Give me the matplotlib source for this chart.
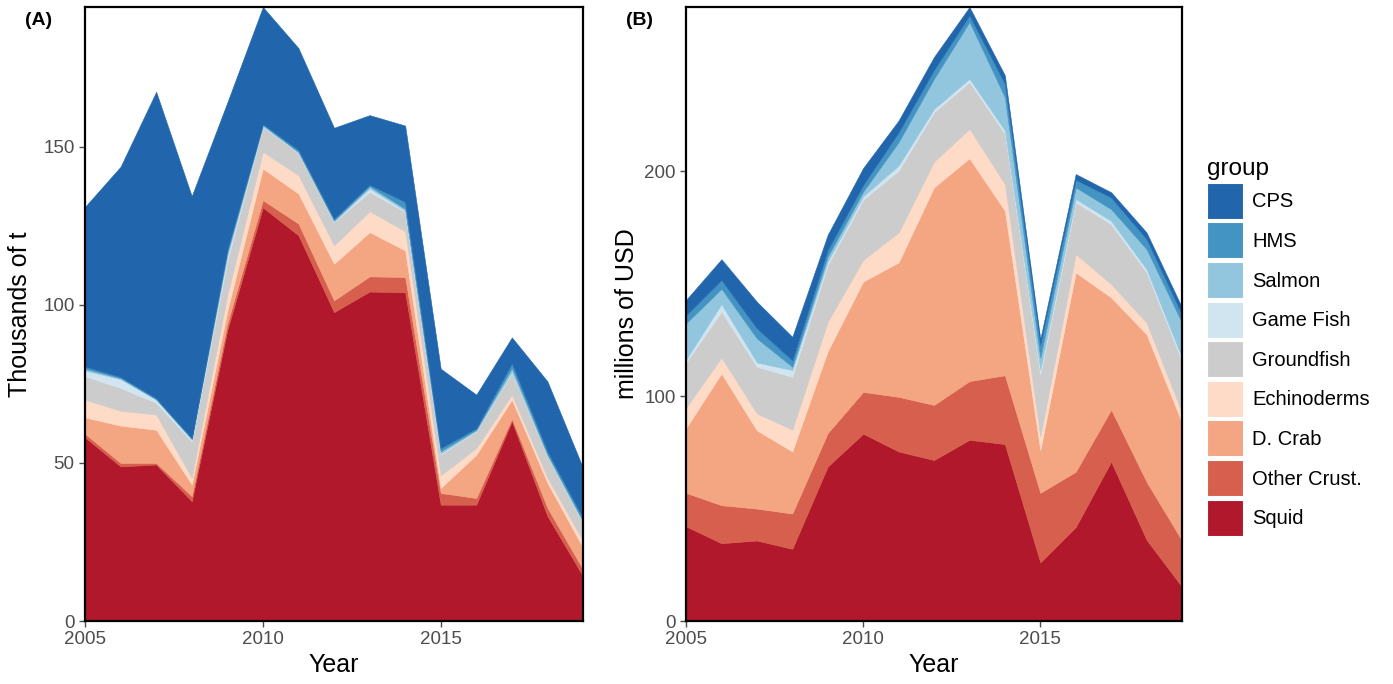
import numpy as np
import matplotlib
matplotlib.use("Agg")
from matplotlib import pyplot as plt
from matplotlib.patches import Patch

plt.rcParams['font.family'] = ['Liberation Sans', 'DejaVu Sans']

years = list(range(2005, 2020))
groups = ["Squid", "Other Crust.", "D. Crab", "Echinoderms", "Groundfish",
          "Game Fish", "Salmon", "HMS", "CPS"]
colors = ["#B2182B", "#D6604D", "#F4A582", "#FDDBC7", "#CCCCCC",
          "#D1E5F0", "#92C5DE", "#4393C3", "#2166AC"]

# landings, thousands of t
land_squid = [58.1, 48.9, 49.5, 37.9, 92.0, 130.8, 122.0, 97.7, 104.2, 104.0, 36.8, 36.8, 63.2, 33.2, 14.2]
land_crust = [1.1, 1.1, 0.5, 1.6, 2.0, 2.3, 3.7, 3.7, 4.8, 4.8, 3.7, 2.1, 0.8, 2.6, 2.1]
land_dcrab = [5.2, 11.8, 10.5, 3.7, 4.0, 10.0, 9.5, 11.6, 14.0, 8.4, 1.6, 13.7, 6.0, 7.9, 6.9]
land_echino = [5.6, 4.7, 4.8, 2.1, 5.0, 5.3, 5.8, 5.8, 6.6, 6.1, 4.0, 2.1, 1.6, 1.6, 2.1]
land_ground = [7.4, 7.2, 3.7, 11.5, 11.0, 7.9, 6.9, 7.4, 6.1, 6.1, 6.5, 5.3, 6.8, 6.8, 5.7]
land_game = [1.8, 2.8, 1.0, 0.6, 1.5, 0.2, 0.2, 0.2, 1.1, 0.4, 0.4, 0.2, 0.4, 0.2, 0.2]
land_salmon = [0.6, 0.3, 0.2, 0.2, 1.0, 0.4, 0.3, 0.3, 0.7, 0.6, 0.7, 0.3, 1.2, 0.4, 0.4]
land_hms = [0.7, 0.4, 0.3, 0.3, 1.0, 0.3, 0.6, 0.6, 0.5, 2.2, 1.0, 0.5, 1.6, 1.0, 1.0]
land_cps = [50.5, 66.5, 96.9, 76.5, 46.5, 37.0, 32.2, 28.7, 22.0, 24.1, 25.1, 10.6, 8.1, 22.1, 15.8]

# revenue, millions of USD
rev_squid = [42.1, 34.6, 35.8, 32.1, 68.7, 83.3, 75.4, 71.6, 80.6, 78.7, 26.1, 41.8, 70.9, 36.1, 15.2]
rev_crust = [14.9, 16.9, 14.2, 15.7, 14.9, 18.6, 24.3, 24.5, 26.1, 30.6, 30.9, 24.6, 23.1, 25.8, 20.6]
rev_dcrab = [28.8, 58.6, 34.8, 27.6, 36.4, 49.1, 59.8, 96.8, 99.1, 73.2, 19.0, 88.6, 49.9, 65.6, 52.3]
rev_echino = [9.0, 7.1, 7.5, 9.7, 13.1, 9.6, 13.3, 11.4, 13.1, 11.9, 6.0, 8.2, 5.9, 5.2, 4.5]
rev_ground = [20.1, 20.4, 20.8, 23.5, 25.3, 26.8, 27.5, 22.0, 20.8, 22.3, 27.7, 23.0, 26.7, 22.3, 23.0]
rev_game = [1.4, 3.4, 1.9, 3.0, 1.5, 1.5, 2.3, 1.5, 1.5, 1.5, 2.2, 1.5, 1.5, 1.5, 1.5]
rev_salmon = [16.1, 6.8, 10.7, 1.5, 2.2, 2.1, 10.4, 13.4, 25.3, 14.8, 5.2, 5.2, 5.2, 8.9, 15.6]
rev_hms = [3.7, 3.9, 4.5, 2.9, 3.0, 3.0, 4.4, 4.0, 2.9, 5.9, 5.9, 3.4, 5.2, 4.5, 3.7]
rev_cps = [6.7, 9.2, 11.8, 10.4, 6.7, 7.5, 5.2, 5.7, 3.7, 3.8, 2.4, 2.5, 2.3, 2.9, 3.0]

landings = [land_squid, land_crust, land_dcrab, land_echino, land_ground,
            land_game, land_salmon, land_hms, land_cps]
revenue = [rev_squid, rev_crust, rev_dcrab, rev_echino, rev_ground,
           rev_game, rev_salmon, rev_hms, rev_cps]

tick_col = "#4D4D4D"


def area_panel(ax, series, yticks, ylabel, tag, pad):
    polys = ax.stackplot(years, *series, colors=colors, linewidth=0)
    # thin edge in the fill colour hides seams between layers
    for p, c in zip(polys, colors):
        p.set_edgecolor(c)
        p.set_linewidth(0.4)
    top = np.sum(np.array(series), axis=0).max()
    ax.set_xlim(2005, 2019)
    ax.set_ylim(0, top)
    ax.set_xticks([2005, 2010, 2015])
    ax.set_yticks(yticks)
    ax.tick_params(colors=tick_col, labelsize=13.5, length=4, width=1)
    for s in ax.spines.values():
        s.set_linewidth(1.6)
        s.set_color("black")
    ax.set_xlabel("Year", fontsize=18, labelpad=3)
    ax.set_ylabel(ylabel, fontsize=18, labelpad=pad)
    ax.text(-0.12, 0.978, tag, transform=ax.transAxes, fontsize=14,
            fontweight="bold", ha="left", va="center")


fig = plt.figure(figsize=(13.93, 6.84), dpi=100)
axA = fig.add_axes([85 / 1393, 1 - 621 / 684, 498 / 1393, 614 / 684])
axB = fig.add_axes([686 / 1393, 1 - 621 / 684, 496 / 1393, 614 / 684])

area_panel(axA, landings, [0, 50, 100, 150], "Thousands of t", "(A)", 8)
area_panel(axB, revenue, [0, 100, 200], "millions of USD", "(B)", 4)

handles = [Patch(facecolor=c, edgecolor="white", linewidth=1.5) for c in colors[::-1]]
fig.legend(handles, groups[::-1], loc="upper left",
           bbox_to_anchor=(1199 / 1393, 1 - 150 / 684), frameon=False,
           title="group", title_fontsize=17.5, fontsize=14.5,
           handlelength=1.85, handleheight=2.45, labelspacing=0.13,
           handletextpad=0.4, alignment="left", borderaxespad=0)

plt.savefig("out.png", dpi=100)
